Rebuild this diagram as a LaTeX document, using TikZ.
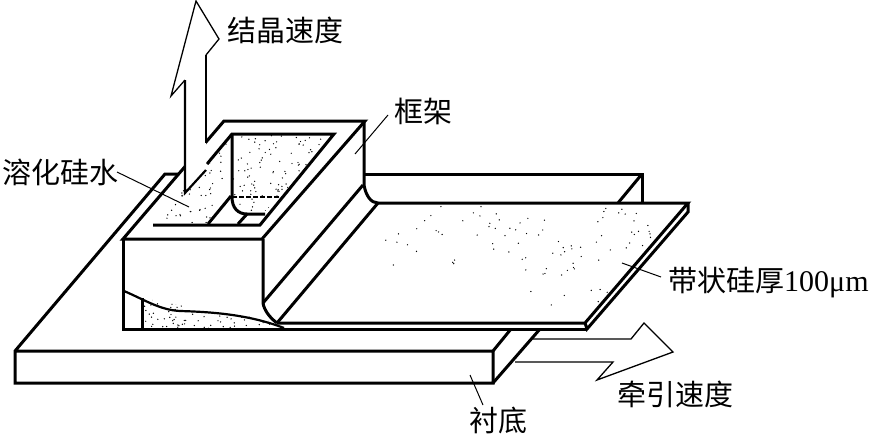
\documentclass[tikz,border=0pt]{standalone}
\usepackage{fontspec}
\setmainfont{Liberation Serif}
\newfontfamily\cjk{Noto Sans CJK SC}
\tikzset{
  thick line/.style={line width=3pt,line join=miter},
  mid line/.style={line width=2.2pt},
  thin line/.style={line width=1.3pt},
  leader/.style={line width=1pt},
  label/.style={inner sep=0pt,font=\cjk\fontsize{29}{31}\selectfont,anchor=west},
}
\newcommand{\stipple}[5]{% count, x0, y0, w, h
  \foreach \i in {1,...,#1}{
    \pgfmathsetmacro{\dx}{#2+rnd*#4}
    \pgfmathsetmacro{\dy}{#3+rnd*#5}
    \fill (\dx,\dy) circle (0.7);
  }}
\begin{document}
\begin{tikzpicture}[x=1pt,y=-1pt]
\useasboundingbox (0,0) rectangle (871,434);
\pgfmathsetseed{4217}
% substrate
\draw[thick line] (190,174) -- (165,174) -- (15,351) -- (15,383) -- (493,383) -- (493,351) -- (15,351);
\draw[thick line] (493,383) -- (540,329);
\draw[thick line] (493,351) -- (511,329);
% back wall behind ribbon
\draw[thick line] (364,174) -- (642,174) -- (642,203);
\draw[thick line] (642,174) -- (618,203);
% ribbon
\fill[white] (378,203) -- (688,203) -- (688,212) -- (587,329) -- (277,329) -- cycle;
\draw[thick line] (378,203) -- (688,203) -- (585,323) -- (277,323);
\draw[thick line] (688,203) -- (688,212) -- (587,329) -- (585,323);
\draw[thick line] (378,203) -- (277,323);
\draw[thick line] (363,185) -- (263,303);
\begin{scope}
\clip (378,204) -- (686,204) -- (584,322) -- (278,322) -- cycle;
\stipple{75}{385}{205}{290}{70}
\stipple{25}{520}{205}{140}{110}
\end{scope}
% frame
\fill[white] (224,121) -- (365,121) -- (262,239) -- (123,239) -- cycle;
\draw[thick line] (224,121) -- (365,121) -- (262,239) -- (123,239) -- cycle;
\draw[thick line] (123,239) -- (123,329) -- (587,329);
\draw[thick line] (263,239) -- (263,303) .. controls (264,310) and (270,318) .. (277,323);
\draw[thick line] (364,121) -- (364,185) .. controls (366,196) and (371,203) .. (378,203);
% opening
\begin{scope}
\clip (232,134) -- (334,134) -- (280,197) -- (232,197) -- cycle;
\stipple{120}{230}{134}{105}{64}
\end{scope}
\begin{scope}
\clip (232,134) -- (232,197) -- (210,224) -- (153,224) -- cycle;
\stipple{100}{153}{134}{80}{90}
\end{scope}
\begin{scope}
\clip (232,197) -- (280,197) -- (262,214) -- (245,214) -- cycle;
\stipple{12}{232}{197}{50}{18}
\end{scope}
\draw[thick line] (207,164) -- (232,134) -- (334,134) -- (260,225) -- (153,225);
\draw[thick line] (232,134) -- (232,197) .. controls (232,208) and (238,214) .. (247,214) -- (265,214);
\draw[thin line,dash pattern=on 5pt off 2pt] (232,197) -- (280,197);
\draw[thick line] (231,196) -- (208,224);
\draw[thick line] (247,214) -- (238,224);
% cut-away
\begin{scope}
\clip (142,298) -- (142,328) -- (284,328) -- (262,318) -- (210,311) -- cycle;
\stipple{110}{142}{298}{142}{31}
\end{scope}
\draw[mid line] (124,291) .. controls (145,300) and (160,310) .. (180,311)
  .. controls (215,312) and (250,315) .. (284,328);
\draw[thick line] (142,298) -- (142,329);
% upward arrow (covers the frame behind it)
\fill[white] (196,1) -- (219,39) -- (206,55) -- (206,170) -- (185,193) -- (185,80) -- (171,96) -- cycle;
\draw[mid line,line join=miter] (206,143) -- (206,55);
\draw[thin line,line join=miter] (206,55) -- (219,39) -- (196,1) -- (171,96) -- (185,80);
\draw[mid line,line join=miter] (185,80) -- (185,193) -- (206,170);
% pull arrow
\draw[thin line,line join=miter] (533,339) -- (631,339) -- (644,323) -- (673,352) -- (597,380) -- (613,362) -- (515,362);
% labels
\node[label] (jiejing) at (227,30) {结晶速度};
\node[label] (kuangjia) at (394,111) {框架};
\node[label] (ronghua) at (2,172) {溶化硅水};
\node[label] (daizhuang) at (668,283) {带状硅厚{\rmfamily\fontsize{30}{31}\selectfont 100μm}};
\node[label] (qianyin) at (617,394) {牵引速度};
\node[label] (chendi) at (469,420) {衬底};
% leaders
\coordinate (a) at (355,154);
\coordinate (b) at (189,207);
\coordinate (c) at (622,263);
\coordinate (d) at (470,375);
\draw[leader] (388,115) -- (a);
\draw[leader] (117,172) -- (b);
\draw[leader] (661,277) -- (c);
\draw[leader] (483,405) -- (d);
\end{tikzpicture}
\end{document}
